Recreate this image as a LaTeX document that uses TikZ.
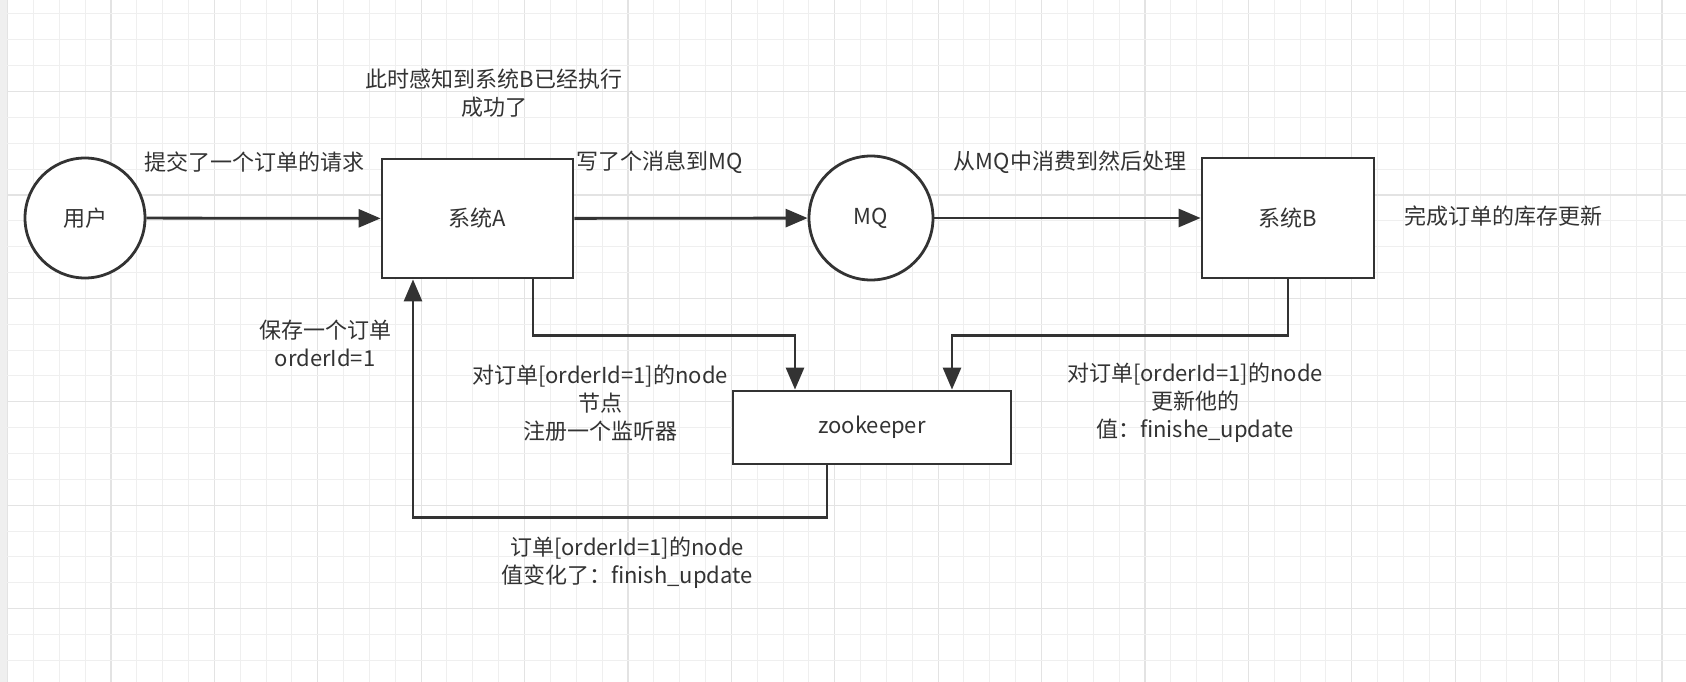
\documentclass[tikz,border=0pt]{standalone}
\usepackage{fontspec}
\setmainfont{Noto Sans CJK SC}
\usetikzlibrary{arrows.meta}
\definecolor{ink}{HTML}{333333}
\definecolor{gridminor}{HTML}{EFEFEF}
\definecolor{gridmajor}{HTML}{E3E3E3}
\begin{document}
\begin{tikzpicture}[x=1pt,y=-1pt,
    txt/.style={text=ink,font=\fontsize{22}{28}\selectfont,align=center,inner sep=0pt},
    circ/.style={txt,draw=ink,line width=2.8pt,circle,fill=white},
    box/.style={txt,draw=ink,line width=2.8pt,rectangle,fill=white},
    link/.style={draw=ink,line width=2.8pt,-{Triangle[length=22pt,width=18pt]}}]
    \fill[white] (0,0) rectangle (1686,682);
    \useasboundingbox (0,0) rectangle (1686,682);
    \foreach \k in {0,...,65} {
        \pgfmathsetmacro{\gx}{7.5+25.85*\k}
        \pgfmathsetmacro{\gc}{ifthenelse(mod(\k,4)==0,1,0)}
        \ifdim\gc pt>0.5pt
            \draw[gridmajor,line width=1.2pt] (\gx,0) -- (\gx,682);
        \else
            \draw[gridminor,line width=1pt] (\gx,0) -- (\gx,682);
        \fi
    }
    \foreach \k in {0,...,26} {
        \pgfmathsetmacro{\gy}{14+25.85*\k}
        \pgfmathsetmacro{\gc}{ifthenelse(mod(\k,4)==3,1,0)}
        \ifdim\gc pt>0.5pt
            \draw[gridmajor,line width=1.2pt] (0,\gy) -- (1686,\gy);
        \else
            \draw[gridminor,line width=1pt] (0,\gy) -- (1686,\gy);
        \fi
    }
    \fill[gridminor] (0,0) rectangle (7,682);

    \node[circ,minimum size=120pt] (user) at (85,218) {用户};
    \node[box,minimum width=191pt,minimum height=119pt] (sysA) at (477.5,218.5) {系统A};
    \node[circ,minimum size=124pt] (mq) at (871,218) {MQ};
    \node[box,minimum width=172pt,minimum height=120pt] (sysB) at (1288,218) {系统B};
    \node[box,minimum width=278pt,minimum height=73pt] (zk) at (872,427.5) {zookeeper};

    \node[txt] (submit) at (254,162) {提交了一个订单的请求};
    \node[txt] (aware) at (494,93) {此时感知到系统B已经执行\\成功了};
    \node[txt] (write) at (660,162) {写了个消息到MQ};
    \node[txt] (consume) at (1070,162) {从MQ中消费到然后处理};
    \node[txt] (done) at (1503,216) {完成订单的库存更新};
    \node[txt] (save) at (325,343) {保存一个订单\\orderId=1};
    \node[txt] (watch) at (600,403) {对订单[orderId=1]的node\\节点\\注册一个监听器};
    \node[txt] (update) at (1195,403) {对订单[orderId=1]的node\\更新他的\\值：finishe\_update};
    \node[txt] (change) at (627,563) {订单[orderId=1]的node\\值变化了：finish\_update};

    \draw[link] (user) -- (sysA);
    \draw[link] (sysA) -- (mq);
    \draw[link] (mq) -- (sysB);
    \draw[link] ([xshift=55.5pt]sysA.south) -- ++(0,56) -| ([xshift=-77pt]zk.north);
    \draw[link] (sysB.south) -- ++(0,56) -| ([xshift=80pt]zk.north);
    \draw[link] ([xshift=-45pt]zk.south) -- ++(0,52) -| ([xshift=-64.5pt]sysA.south);
\end{tikzpicture}
\end{document}
